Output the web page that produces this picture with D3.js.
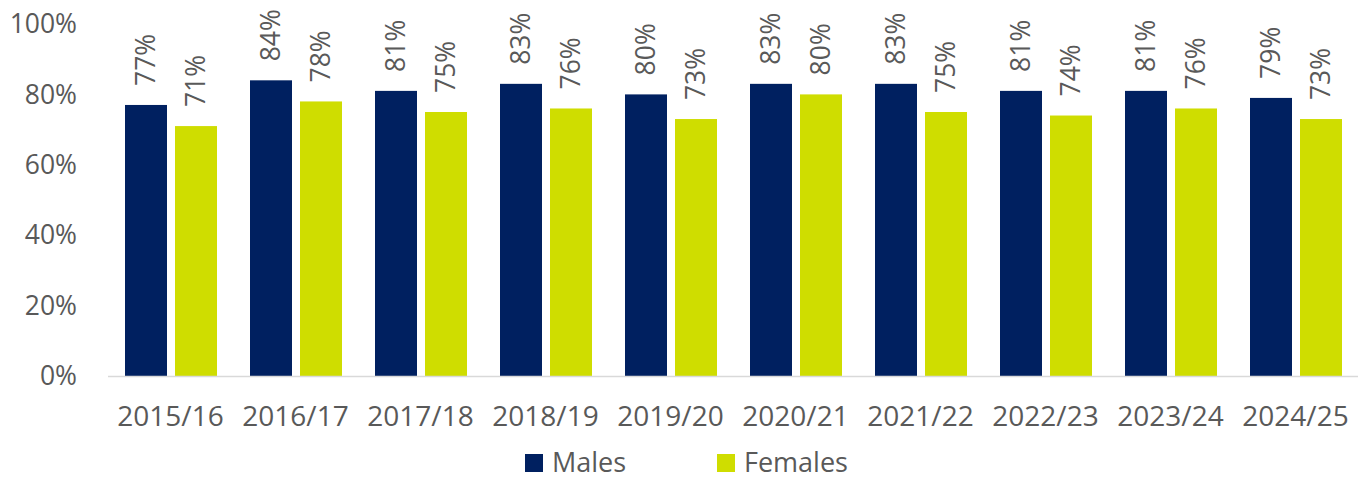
<!DOCTYPE html>
<html lang="en">
<head>
    <meta charset="UTF-8">
    <title>Males and Females</title>
    <script src="https://d3js.org/d3.v7.min.js"></script>
</head>
<style>
    html,body {
        margin: 0;
        padding: 0;
        background: #fff;
    }
</style>
<body>
    <div id="chart"></div>
</body>
<script>
    // 数据
    const years = ['2015/16', '2016/17', '2017/18', '2018/19', '2019/20', '2020/21', '2021/22', '2022/23', '2023/24', '2024/25'];
    const males = [77, 84, 81, 83, 80, 83, 83, 81, 81, 79];
    const females = [71, 78, 75, 76, 73, 80, 75, 74, 76, 73];
    const yTicks = [0, 20, 40, 60, 80, 100];
    const seriesNames = ['Males', 'Females'];
    const colors = ['#002060', '#CFDD00'];

    const W = 1369, H = 479;
    const font = '"Open Sans", sans-serif';
    const textColor = '#595959';

    const svg = d3.select('#chart').append('svg')
        .attr('width', W)
        .attr('height', H)
        .style('font-family', font);

    const x0 = d3.scaleBand().domain(years).range([108, 1358]).paddingInner(0).paddingOuter(0);
    const x1 = d3.scaleBand().domain(seriesNames).range([17, x0.bandwidth() - 16]).paddingInner(0.16);
    const y = d3.scaleLinear().domain([0, 100]).range([376, 24]);

    // y轴文字
    svg.append('g')
        .selectAll('text')
        .data(yTicks)
        .enter()
        .append('text')
        .attr('x', 77)
        .attr('y', d => y(d))
        .attr('dy', '0.35em')
        .attr('text-anchor', 'end')
        .attr('fill', textColor)
        .style('font-size', '26.5px')
        .text(d => d + '%');

    const rows = years.map((yr, i) => ({ year: yr, values: [males[i], females[i]] }));

    const groups = svg.append('g')
        .selectAll('g')
        .data(rows)
        .enter()
        .append('g')
        .attr('transform', d => `translate(${x0(d.year)},0)`);

    groups.selectAll('rect')
        .data(d => d.values.map((v, k) => ({ key: seriesNames[k], v: v, k: k })))
        .enter()
        .append('rect')
        .attr('x', d => x1(d.key))
        .attr('y', d => y(d.v))
        .attr('width', x1.bandwidth())
        .attr('height', d => y(0) - y(d.v))
        .attr('fill', d => colors[d.k]);

    // 数据标签 (竖排)
    groups.selectAll('text')
        .data(d => d.values.map((v, k) => ({ key: seriesNames[k], v: v })))
        .enter()
        .append('text')
        .attr('transform', d => `translate(${x1(d.key) + x1.bandwidth() / 2},${y(d.v) - 19}) rotate(-90)`)
        .attr('dy', '0.35em')
        .attr('text-anchor', 'start')
        .attr('fill', textColor)
        .style('font-size', '26.5px')
        .text(d => d.v + '%');

    // x轴
    svg.append('line')
        .attr('x1', 108).attr('x2', 1358)
        .attr('y1', y(0) + 0.5).attr('y2', y(0) + 0.5)
        .attr('stroke', '#D9D9D9')
        .attr('stroke-width', 1.5);

    svg.append('g')
        .selectAll('text')
        .data(years)
        .enter()
        .append('text')
        .attr('x', d => x0(d) + x0.bandwidth() / 2)
        .attr('y', 426)
        .attr('text-anchor', 'middle')
        .attr('fill', textColor)
        .style('font-size', '28px')
        .text(d => d);

    // 图例
    const legendX = [525, 717];
    const legend = svg.append('g')
        .selectAll('g')
        .data(seriesNames)
        .enter()
        .append('g')
        .attr('transform', (d, i) => `translate(${legendX[i]},454)`);
    legend.append('rect')
        .attr('width', 18).attr('height', 18)
        .attr('fill', (d, i) => colors[i]);
    legend.append('text')
        .attr('x', 27)
        .attr('y', 18)
        .attr('fill', textColor)
        .style('font-size', '27px')
        .text(d => d);
</script>
</html>
